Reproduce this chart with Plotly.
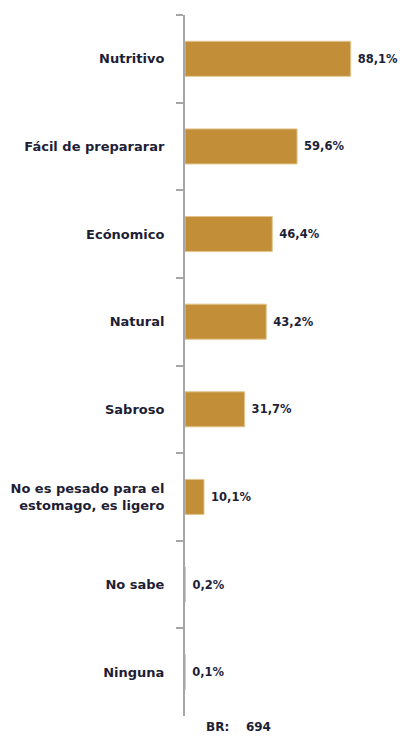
import plotly.graph_objects as go

categories = [
    "Nutritivo",
    "Fácil de prepararar",
    "Ecónomico",
    "Natural",
    "Sabroso",
    "No es pesado para el<br>estomago, es ligero",
    "No sabe",
    "Ninguna",
]
values = [88.1, 59.6, 46.4, 43.2, 31.7, 10.1, 0.2, 0.1]
base_label = "BR:"
base_value = "694"

labels = [f"{v:.1f}%".replace(".", ",") for v in values]

BAR = "#C28F38"
TXT = "#1E1E36"
AX = "#A6A6A6"
FONT = "DejaVu Sans"

fig = go.Figure(
    go.Bar(
        x=values,
        y=categories,
        orientation="h",
        width=0.4,
        marker=dict(color=BAR, line=dict(color="#E2C58E", width=1)),
        text=[" " + t for t in labels],
        textposition="outside",
        textfont=dict(family=FONT, size=11.5, color=TXT, weight="bold"),
        cliponaxis=False,
        hoverinfo="skip",
    )
)

fig.update_layout(
    width=400,
    height=736,
    margin=dict(l=185, r=10, t=15, b=20),
    plot_bgcolor="white",
    paper_bgcolor="white",
    showlegend=False,
    xaxis=dict(
        range=[0, 109],
        visible=False,
        showgrid=False,
        zeroline=False,
    ),
    yaxis=dict(
        categoryorder="array",
        categoryarray=categories,
        autorange="reversed",
        showline=True,
        linecolor=AX,
        linewidth=2,
        ticks="outside",
        tickson="boundaries",
        ticklen=7,
        tickwidth=2,
        tickcolor=AX,
        ticklabelstandoff=16,
        tickfont=dict(family=FONT, size=13, color=TXT, weight="bold"),
        showgrid=False,
        zeroline=False,
    ),
    annotations=[
        dict(
            text=f"{base_label}&nbsp;&nbsp;&nbsp;&nbsp;{base_value}",
            xref="paper",
            yref="paper",
            x=0.093,
            y=-0.0157,
            xanchor="left",
            yanchor="middle",
            showarrow=False,
            font=dict(family=FONT, size=12, color=TXT, weight="bold"),
        )
    ],
)

fig.write_html(
    "out.html",
    config={"displayModeBar": False},
    post_script="document.body.style.margin='0';document.body.style.padding='0';",
)
